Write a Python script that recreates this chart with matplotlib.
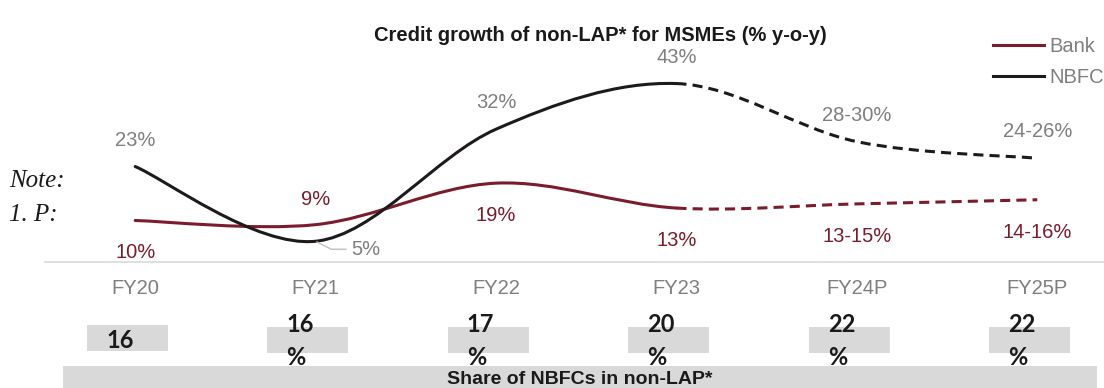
import matplotlib.pyplot as plt
from matplotlib.path import Path
from matplotlib.patches import PathPatch, Rectangle
from matplotlib.lines import Line2D

years = ["FY20", "FY21", "FY22", "FY23", "FY24P", "FY25P"]
bank = [10, 9, 19, 13, 14, 15]          # FY24P/FY25P: mid of projected range
nbfc = [23, 5, 32, 43, 29, 25]
bank_labels = ["10%", "9%", "19%", "13%", "13-15%", "14-16%"]
nbfc_labels = ["23%", "5%", "32%", "43%", "28-30%", "24-26%"]
nbfc_share = [16, 16, 17, 20, 22, 22]

W, H = 1104, 388
BANK_C = "#7B1C2C"
NBFC_C = "#1E1A1B"
GREY = "#7F7F7F"
BOX_C = "#D9D9D9"
plt.rcParams['font.family'] = ['Liberation Sans', 'DejaVu Sans']


def smooth_path(xs, ys, start, end):
    # excel-like smoothed line: catmull-rom as cubic bezier segments
    n = len(xs)
    pts = list(zip(xs, ys))
    verts = [pts[start]]
    codes = [Path.MOVETO]
    for i in range(start, end):
        p0 = pts[max(i - 1, 0)]
        p1 = pts[i]
        p2 = pts[i + 1]
        p3 = pts[min(i + 2, n - 1)]
        c1 = (p1[0] + (p2[0] - p0[0]) / 6, p1[1] + (p2[1] - p0[1]) / 6)
        c2 = (p2[0] - (p3[0] - p1[0]) / 6, p2[1] - (p3[1] - p1[1]) / 6)
        verts += [c1, c2, p2]
        codes += [Path.CURVE4] * 3
    return Path(verts, codes)


fig = plt.figure(figsize=(W / 100, H / 100), dpi=100)
ax = fig.add_axes([45 / W, 126 / H, (W - 45) / W, 262 / H])
ax.set_xlim(-0.5, 5.37)
ax.set_ylim(0, 262 / 4.15)

xs = list(range(len(years)))
lw = 2.2
for vals, col in [(bank, BANK_C), (nbfc, NBFC_C)]:
    ax.add_patch(PathPatch(smooth_path(xs, vals, 0, 3), fill=False,
                           edgecolor=col, lw=lw, capstyle='round'))
    ax.add_patch(PathPatch(smooth_path(xs, vals, 3, 5), fill=False,
                           edgecolor=col, lw=lw, linestyle=(0, (3.3, 2))))

# data labels
fs = 14.5
for i, (v, lab) in enumerate(zip(nbfc, nbfc_labels)):
    if i == 1:
        ax.annotate(lab, xy=(i, v), xytext=(36, -8), textcoords='offset pixels',
                    ha='left', va='center', fontsize=fs, color=GREY,
                    arrowprops=dict(arrowstyle='-', color='#BFBFBF', lw=1,
                                    relpos=(0, 0.5), shrinkA=2, shrinkB=1,
                                    connectionstyle='angle,angleA=0,angleB=-27,rad=0'))
    else:
        ax.annotate(lab, xy=(i, v), xytext=(0, 21), textcoords='offset pixels',
                    ha='center', va='baseline', fontsize=fs, color=GREY)
for i, (v, lab) in enumerate(zip(bank, bank_labels)):
    dy = 20 if i == 1 else -38
    ax.annotate(lab, xy=(i, v), xytext=(0, dy), textcoords='offset pixels',
                ha='center', va='baseline', fontsize=fs, color=BANK_C)

ax.set_xticks(xs)
ax.set_xticklabels(years, fontsize=fs, color=GREY)
ax.tick_params(axis='x', length=0, pad=12.5)
ax.set_yticks([])
for s in ['left', 'right', 'top']:
    ax.spines[s].set_visible(False)
ax.spines['bottom'].set_color(BOX_C)
ax.spines['bottom'].set_linewidth(1.2)
ax.patch.set_alpha(0)

fig.text(600 / W, 1 - 41 / H, "Credit growth of non-LAP* for MSMEs (% y-o-y)",
         ha='center', va='baseline', fontsize=14.5, fontweight='bold', color='#1a1a1a')

handles = [Line2D([], [], color=BANK_C, lw=lw), Line2D([], [], color=NBFC_C, lw=lw)]
fig.legend(handles, ["Bank", "NBFC"], loc='upper left',
           bbox_to_anchor=(993 / W, 1 - 37 / H), frameon=False, fontsize=fs,
           labelcolor=GREY, handlelength=2.55, handletextpad=0.26,
           borderpad=0, borderaxespad=0, labelspacing=0.6)

fig.text(9 / W, 1 - 187 / H, "Note:", family='Liberation Serif', style='italic',
         fontsize=18, va='baseline', color='#1a1a1a')
fig.text(9 / W, 1 - 221 / H, "1. P:", family='Liberation Serif', style='italic',
         fontsize=18, va='baseline', color='#1a1a1a')

# share of NBFCs row (y in pixels from the top)
ax2 = fig.add_axes([45 / W, 0, (W - 45) / W, 88 / H])
ax2.set_xlim(-0.5, 5.37)
ax2.set_ylim(388, 300)
ax2.axis('off')
for i, v in enumerate(nbfc_share):
    left = i - 0.267
    top = 325 if i == 0 else 327
    ax2.add_patch(Rectangle((left, top), 0.449, 26, color=BOX_C, lw=0))
    tx = left + 19 / 180.4
    if i == 0:
        ax2.text(tx, 348, f"{v}", fontsize=17, fontweight='bold',
                 family='Lato', va='baseline', color='#1a1a1a')
    else:
        ax2.text(tx, 332, f"{v}", fontsize=17, fontweight='bold',
                 family='Lato', va='baseline', color='#1a1a1a')
        ax2.text(tx, 365, "%", fontsize=17, fontweight='bold',
                 family='Lato', va='baseline', color='#1a1a1a')
ax2.add_patch(Rectangle((-0.40, 366), 5.73, 30, color=BOX_C, lw=0, clip_on=False))
ax2.text(2.466, 384, "Share of NBFCs in non-LAP*", ha='center', va='baseline',
         fontsize=14, fontweight='bold', color='#1a1a1a')

fig.savefig("out.png", dpi=100)
